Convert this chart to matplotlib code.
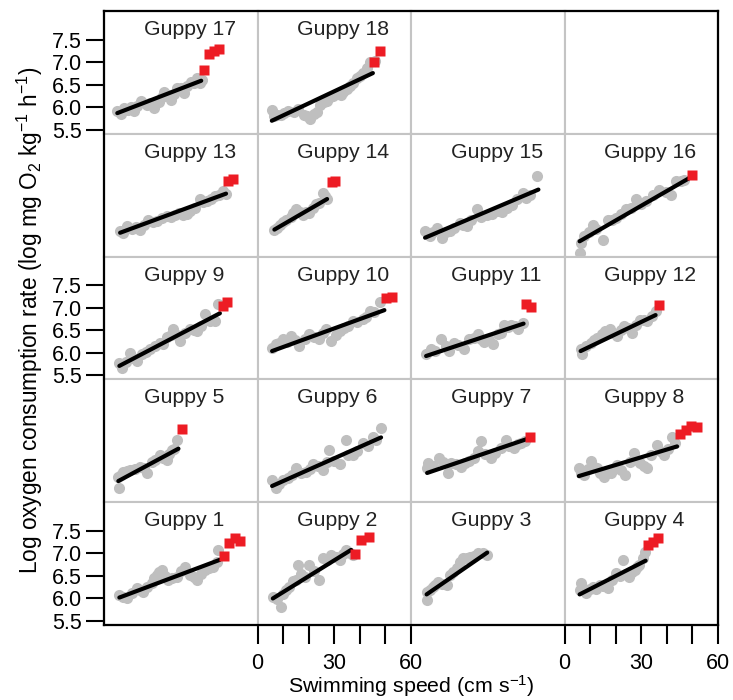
import matplotlib
matplotlib.use("Agg")
import matplotlib.pyplot as plt

plt.rcParams['font.family'] = ['Liberation Sans', 'DejaVu Sans']
plt.rcParams['mathtext.fontset'] = 'custom'
plt.rcParams['mathtext.rm'] = 'Liberation Sans'
plt.rcParams['mathtext.it'] = 'Liberation Sans:italic'

# panel layout, top row first (None = empty panel)
panels = [[17, 18, None, None],
          [13, 14, 15, 16],
          [9, 10, 11, 12],
          [5, 6, 7, 8],
          [1, 2, 3, 4]]

# grey points: swimming speed (cm/s) and log O2 rate
gray_speed = {
    17: [5.2, 6.5, 7.8, 9.5, 10.5, 11.7, 13.0, 14.3, 16.9, 18.0, 19.5, 21.5, 22.5, 23.5, 25.0, 26.1,
         27.5, 28.7, 30.0, 31.3, 32.5, 33.9, 35.0, 36.5, 37.5, 38.4],
    18: [5.6, 6.5, 7.6, 9.0, 10.2, 12.0, 14.1, 16.0, 18.0, 19.5, 20.6, 22.0, 23.2, 24.5, 25.8, 27.0,
         28.4, 29.5, 31.0, 32.5, 33.6, 35.0, 36.2, 37.5, 38.8, 40.0, 41.4, 42.7, 44.0, 45.9],
    13: [6.3, 7.5, 8.9, 11.0, 12.5, 14.1, 15.5, 17.3, 19.0, 20.6, 22.5, 24.5, 26.0, 27.8, 29.5, 31.0,
         32.5, 33.6, 35.5, 37.5, 38.8, 40.1, 41.8, 43.4, 45.0, 46.6, 47.7],
    14: [6.6, 7.5, 8.6, 10.0, 11.2, 13.0, 14.0, 15.1, 16.5, 17.7, 19.0, 20.3, 21.5, 22.9, 24.0, 25.5,
         26.5, 27.2],
    15: [5.5, 7.4, 8.5, 10.0, 12.0, 13.5, 15.2, 17.0, 19.1, 20.5, 21.7, 23.5, 25.7, 27.5, 29.6, 31.5,
         33.5, 35.5, 37.4, 39.5, 41.3, 43.9, 45.0, 46.5, 49.1],
    16: [5.9, 6.5, 7.8, 9.5, 11.1, 12.5, 15.0, 16.9, 18.5, 20.2, 22.0, 24.1, 26.0, 28.0, 30.0, 31.9,
         34.5, 37.1, 39.5, 41.7, 43.7, 45.5, 46.9],
    9: [6.0, 6.9, 8.5, 10.2, 11.5, 12.8, 15.0, 16.5, 18.0, 20.0, 21.9, 23.0, 24.5, 26.0, 27.1, 28.5,
        29.7, 31.5, 33.6, 35.0, 36.2, 38.0, 39.5, 41.5, 43.4, 44.7],
    10: [5.7, 7.3, 8.5, 9.9, 11.5, 13.2, 14.8, 16.4, 18.5, 20.3, 22.0, 24.2, 25.5, 26.8, 28.8, 30.5,
         32.1, 34.0, 35.5, 37.3, 39.0, 41.2, 42.5, 43.8, 45.5, 47.7],
    11: [5.9, 7.8, 9.5, 11.7, 13.5, 15.0, 16.9, 18.5, 20.8, 22.8, 24.5, 26.1, 27.5, 28.7, 30.5, 31.9,
         33.9, 35.0, 36.5, 38.0, 39.1, 40.5, 41.7, 43.7],
    12: [6.3, 6.9, 8.5, 10.2, 11.5, 12.8, 14.5, 16.0, 17.9, 19.0, 20.6, 22.0, 23.2, 25.0, 26.5, 28.0,
         29.7, 31.0, 32.3, 34.3, 35.6],
    5: [5.6, 6.0, 6.8, 7.6, 9.0, 10.2, 12.0, 14.1, 15.5, 16.7, 18.6, 20.0, 21.9, 23.0, 24.5, 25.5,
        26.5, 27.5, 28.4],
    6: [5.7, 7.3, 8.5, 9.9, 12.0, 13.5, 15.1, 17.0, 19.0, 20.5, 21.6, 23.5, 25.5, 27.0, 28.1, 30.0,
        32.1, 34.4, 35.5, 37.3, 39.0, 41.2, 43.0, 45.1, 46.5, 48.3],
    7: [6.3, 6.5, 8.5, 11.1, 12.5, 14.3, 15.6, 17.5, 19.5, 21.0, 22.8, 24.5, 26.1, 27.4, 29.0, 31.3,
        33.0, 35.2, 37.1, 38.5, 40.4, 42.0, 43.0, 44.5],
    8: [5.6, 6.5, 7.6, 9.0, 10.2, 11.5, 12.8, 14.0, 15.4, 16.5, 18.0, 19.5, 20.6, 22.0, 23.8, 25.5,
        27.1, 28.5, 29.7, 31.0, 32.3, 34.0, 36.2, 37.5, 38.8, 40.5, 42.0, 43.3],
    1: [6.0, 7.5, 8.9, 11.0, 12.8, 14.0, 15.4, 17.0, 18.6, 19.5, 20.6, 21.5, 22.5, 23.8, 25.1, 26.5,
        28.4, 30.0, 31.6, 33.6, 35.0, 36.2, 38.0, 39.5, 41.0, 42.7, 44.0, 44.7],
    2: [6.0, 7.5, 9.3, 10.0, 11.2, 12.5, 13.8, 15.0, 15.8, 17.0, 18.4, 20.3, 22.0, 24.2, 25.5, 27.0,
        28.8, 30.5, 32.1, 33.5, 34.7, 36.0, 37.3],
    3: [6.1, 6.4, 7.5, 8.6, 9.5, 10.6, 12.0, 13.9, 15.2, 16.5, 18.0, 19.0, 20.5, 21.8, 23.1, 24.5,
        26.3, 28.0, 29.6],
    4: [5.9, 6.5, 7.5, 8.5, 9.8, 11.1, 12.5, 13.7, 15.0, 16.9, 18.5, 20.2, 21.5, 22.8, 24.0, 25.4,
        26.5, 27.4, 28.5, 29.3, 30.5, 31.3],
}
gray_rate = {
    17: [5.91, 5.85, 5.98, 5.95, 6.00, 5.92, 6.02, 6.13, 6.06, 6.10, 5.98, 6.12, 6.22, 6.35, 6.28, 6.17,
         6.30, 6.43, 6.42, 6.32, 6.47, 6.57, 6.55, 6.65, 6.55, 6.61],
    18: [5.94, 5.80, 5.83, 5.82, 5.87, 5.92, 5.90, 5.96, 5.83, 5.80, 5.75, 5.85, 5.90, 6.05, 6.11, 6.15,
         6.22, 6.26, 6.30, 6.28, 6.33, 6.40, 6.48, 6.55, 6.66, 6.70, 6.77, 6.88, 7.00, 7.03],
    13: [5.97, 5.93, 6.08, 6.03, 6.06, 6.01, 6.12, 6.23, 6.18, 6.20, 6.26, 6.31, 6.30, 6.34, 6.38, 6.34,
         6.36, 6.42, 6.50, 6.68, 6.62, 6.64, 6.70, 6.75, 6.78, 6.86, 6.80],
    14: [6.01, 6.05, 6.12, 6.18, 6.23, 6.30, 6.38, 6.46, 6.40, 6.34, 6.40, 6.38, 6.48, 6.57, 6.60, 6.83,
         6.75, 6.70],
    15: [5.97, 5.86, 5.95, 6.05, 5.83, 5.95, 5.97, 6.05, 6.16, 6.12, 6.09, 6.22, 6.46, 6.30, 6.34, 6.36,
         6.42, 6.40, 6.49, 6.55, 6.68, 6.83, 6.72, 6.79, 7.20],
    16: [5.49, 5.72, 5.86, 5.95, 6.12, 6.02, 5.79, 6.23, 6.22, 6.27, 6.35, 6.46, 6.50, 6.68, 6.58, 6.64,
         6.78, 6.90, 6.85, 6.79, 7.08, 7.10, 7.12],
    9: [5.78, 5.67, 5.80, 6.00, 5.88, 5.82, 5.98, 6.02, 6.08, 6.15, 6.23, 6.20, 6.35, 6.40, 6.52, 6.40,
        6.26, 6.45, 6.52, 6.50, 6.48, 6.60, 6.86, 6.70, 6.71, 7.08],
    10: [6.11, 6.19, 6.22, 6.30, 6.25, 6.37, 6.28, 6.15, 6.30, 6.41, 6.35, 6.30, 6.45, 6.52, 6.26, 6.40,
         6.48, 6.55, 6.60, 6.71, 6.68, 6.75, 6.80, 6.93, 6.90, 7.12],
    11: [5.98, 6.08, 6.05, 6.30, 6.15, 6.04, 6.23, 6.18, 6.08, 6.30, 6.32, 6.41, 6.30, 6.25, 6.28, 6.19,
         6.41, 6.45, 6.63, 6.58, 6.63, 6.60, 6.52, 6.67],
    12: [6.08, 5.97, 6.15, 6.23, 6.28, 6.34, 6.42, 6.48, 6.52, 6.45, 6.37, 6.50, 6.60, 6.55, 6.45, 6.62,
         6.74, 6.72, 6.71, 6.82, 6.93],
    5: [5.97, 5.72, 6.02, 6.08, 6.10, 6.12, 6.15, 6.20, 6.18, 6.05, 6.31, 6.35, 6.46, 6.40, 6.34, 6.48,
        6.57, 6.60, 6.80],
    6: [5.90, 5.72, 5.82, 5.90, 5.95, 6.02, 6.16, 6.05, 6.08, 6.15, 6.27, 6.22, 6.12, 6.30, 6.57, 6.32,
        6.27, 6.79, 6.45, 6.46, 6.55, 6.72, 6.65, 6.86, 6.80, 7.07],
    7: [6.17, 6.28, 6.22, 6.39, 6.30, 6.06, 6.28, 6.25, 6.20, 6.28, 6.32, 6.40, 6.54, 6.76, 6.48, 6.39,
        6.50, 6.61, 6.80, 6.65, 6.61, 6.70, 6.72, 6.78],
    8: [6.17, 6.05, 6.02, 6.15, 6.32, 6.20, 6.17, 6.05, 5.98, 6.10, 6.06, 6.15, 6.24, 6.12, 6.02, 6.30,
        6.50, 6.35, 6.28, 6.22, 6.17, 6.45, 6.69, 6.55, 6.46, 6.60, 6.87, 6.72],
    1: [6.08, 6.04, 6.00, 6.12, 6.23, 6.18, 6.15, 6.25, 6.34, 6.45, 6.52, 6.58, 6.63, 6.50, 6.41, 6.45,
        6.48, 6.60, 6.71, 6.52, 6.48, 6.41, 6.55, 6.63, 6.68, 6.71, 6.80, 7.08],
    2: [6.04, 5.98, 5.82, 6.10, 6.19, 6.25, 6.38, 6.42, 6.74, 6.55, 6.48, 6.74, 6.60, 6.41, 6.89, 6.85,
        6.97, 6.92, 6.86, 6.98, 7.08, 7.02, 6.97],
    3: [5.97, 6.15, 6.18, 6.26, 6.30, 6.37, 6.32, 6.30, 6.52, 6.58, 6.67, 6.80, 6.89, 6.90, 6.93, 6.95,
        7.00, 7.02, 6.97],
    4: [6.19, 6.34, 6.22, 6.12, 6.20, 6.26, 6.22, 6.30, 6.28, 6.23, 6.42, 6.56, 6.50, 6.86, 6.55, 6.48,
        6.58, 6.63, 6.70, 6.74, 6.90, 7.04],
}

# regression line ends (speed, rate)
fit_speed = {17: (5.2, 38.0), 18: (5.6, 45.1), 13: (6.3, 47.7), 14: (6.6, 27.2),
             15: (5.5, 49.8), 16: (5.9, 48.9), 9: (6.0, 45.3), 10: (5.7, 49.6),
             11: (5.9, 44.0), 12: (6.3, 35.6), 5: (5.6, 29.1), 6: (5.7, 48.3),
             7: (6.3, 45.6), 8: (5.6, 44.0), 1: (6.0, 45.3), 2: (6.0, 36.6),
             3: (6.1, 29.8), 4: (5.9, 31.7)}
fit_rate = {17: (5.87, 6.59), 18: (5.70, 6.76), 13: (5.94, 6.81), 14: (6.01, 6.69),
            15: (5.83, 6.90), 16: (5.75, 7.16), 9: (5.71, 6.88), 10: (6.04, 6.95),
            11: (5.93, 6.65), 12: (6.04, 6.84), 5: (5.88, 6.60), 6: (5.77, 6.85),
            7: (6.06, 6.82), 8: (5.99, 6.65), 1: (6.02, 6.86), 2: (6.00, 7.08),
            3: (6.09, 7.02), 4: (6.09, 6.84)}

# red squares (points left out of the fit)
red_speed = {17: [39.1, 41.1, 43.0, 45.0], 18: [45.7, 47.7], 13: [48.5, 50.4],
             14: [29.3, 30.1], 16: [49.9], 9: [46.6, 48.2], 10: [50.4, 52.6],
             11: [45.0, 46.9], 12: [36.9], 5: [30.4], 7: [46.7],
             8: [45.0, 47.3, 49.6, 51.6], 1: [46.9, 48.9, 51.2, 53.2],
             2: [38.3, 40.5, 43.5], 4: [32.6, 34.5, 36.5]}
red_rate = {17: [6.83, 7.18, 7.24, 7.29], 18: [7.01, 7.26], 13: [7.10, 7.14],
            14: [7.06, 7.10], 16: [7.23], 9: [7.04, 7.13], 10: [7.21, 7.25],
            11: [7.08, 7.02], 12: [7.06], 5: [7.03], 7: [6.87],
            8: [6.92, 7.01, 7.10, 7.08], 1: [6.94, 7.23, 7.34, 7.28],
            2: [6.99, 7.30, 7.37], 4: [7.19, 7.26, 7.34]}

yticks = [5.5, 6.0, 6.5, 7.0, 7.5]

fig, axes = plt.subplots(5, 4, figsize=(7.33, 7.0), dpi=100)
fig.subplots_adjust(left=104 / 733, right=718 / 733, top=1 - 11 / 700,
                    bottom=1 - 625 / 700, wspace=0, hspace=0)

for r in range(5):
    for c in range(4):
        ax = axes[r, c]
        ax.set_xlim(0, 60)
        ax.set_ylim(5.41, 8.14)
        for s in ax.spines.values():
            s.set_color('#c4c4c4')
            s.set_linewidth(1.5)
        ax.set_xticks([])
        ax.set_yticks([])

        # y axis only on rows 1, 3, 5 of the first column
        if c == 0 and r in (0, 2, 4):
            ax.set_yticks(yticks)
            ax.set_yticklabels(['%.1f' % v for v in yticks])
            ax.tick_params(axis='y', length=13, width=1.5, pad=3,
                           labelsize=15.5, color='black')
        # x axis only under columns 2 and 4
        if r == 4 and c in (1, 3):
            ax.set_xticks([0, 30, 60])
            ax.set_xticks([10, 20, 40, 50], minor=True)
            ax.tick_params(axis='x', which='both', length=14, width=1.5,
                           pad=6, labelsize=15.5, color='black')

        g = panels[r][c]
        if g is None:
            continue
        ax.plot(gray_speed[g], gray_rate[g], 'o', color='#bfbfbf', ms=8,
                mec='none', clip_on=False, zorder=2)
        ax.plot(fit_speed[g], fit_rate[g], '-', color='black', lw=3,
                solid_capstyle='round', zorder=3)
        if g in red_speed:
            ax.plot(red_speed[g], red_rate[g], 's', color='#ed1c24', ms=6.5,
                    mec='none', clip_on=False, zorder=4)
        ax.text(0.26, 0.805, 'Guppy %d' % g, transform=ax.transAxes,
                fontsize=15.3, ha='left', va='baseline', color='#222222')

# black outer frame over the whole grid
frame = fig.add_axes([104 / 733, 1 - 625 / 700, 614 / 733, 614 / 700])
frame.set_facecolor('none')
frame.set_xticks([])
frame.set_yticks([])
for s in frame.spines.values():
    s.set_color('black')
    s.set_linewidth(1.6)

fig.text(30 / 733, 1 - 320 / 700,
         r'Log oxygen consumption rate (log mg O$_2$ kg$^{-1}$ h$^{-1}$)',
         rotation=90, ha='center', va='center', fontsize=16.3)
fig.text(411 / 733, 1 - 686 / 700, r'Swimming speed (cm s$^{-1}$)',
         ha='center', va='center', fontsize=15.4)

fig.savefig('out.png', dpi=100)
